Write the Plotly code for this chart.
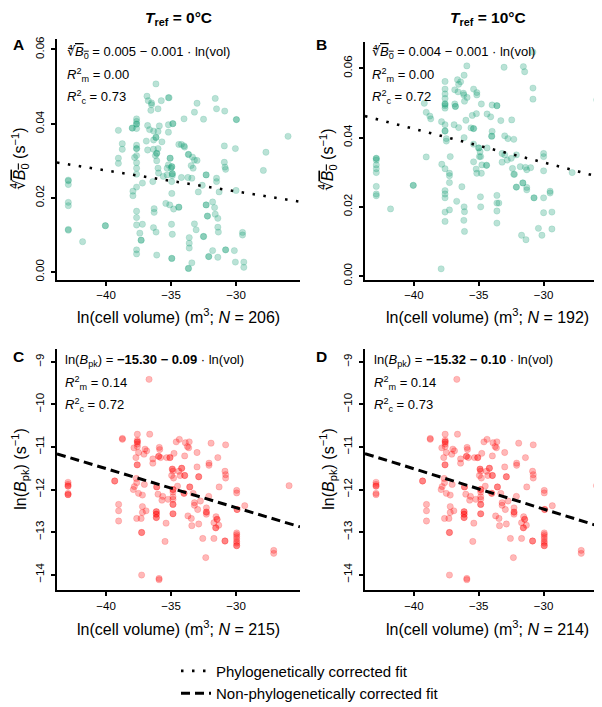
import plotly.graph_objects as go

# ---------------- data ----------------
# Panel A: T_ref = 0 C, fourth root of B0 vs ln(cell volume)
vol_A = [-42.9, -42.9, -42.9, -42.9, -42.9, -42.9, -42.9,
         -41.8, -40.05, -40.05, -39.05, -39.05, -39.05, -38.75, -38.75, -37.98, -37.98, -37.93, -37.93, -37.8,
         -37.65, -37.65, -37.65, -37.65, -37.65, -37.65, -37.65, -37.65, -37.65, -37.65, -37.65, -37.65, -37.65,
         -37.65, -37.65, -37.65, -37.65, -37.65,
         -37.2, -37.4, -37.3, -37.3, -37.2,
         -36.16, -36.85, -36.75, -36.5, -36.5, -35.75, -35.2, -35.15, -36.0, -36.55,
         -33.0, -31.6, -31.5, -30.87, -33.2, -32.5, -34.0, -29.97, -29.97,
         -34.86, -34.86, -35.2, -36.8, -36.65, -36.34, -36.0, -35.9, -35.2,
         -36.16, -36.16, -36.34, -36.9, -35.7, -36.8, -36.35, -36.0, -36.1, -36.1, -36.2,
         -34.4, -34.2, -34.0, -33.96, -33.66, -33.66, -33.35, -33.2, -33.0,
         -35.07, -35.07, -34.94, -34.94, -35.0, -35.2, -36.1, -36.0, -35.96, -35.3, -35.3, -35.6,
         -33.45, -33.3, -34.2, -33.7, -33.4, -32.3, -32.3, -31.5, -31.5,
         -30.9, -30.85, -30.8, -30.9, -30.05, -27.7, -27.9, -26.0,
         -34.9, -34.9, -34.9, -34.95, -36.4,
         -32.9, -32.6, -31.3, -30.0, -34.94,
         -35.4, -35.1, -34.8, -34.4, -34.4, -32.3, -32.3, -31.8, -31.65, -36.3, -36.3,
         -32.2, -32.2, -31.6, -31.4, -34.96, -34.9, -36.35, -36.15, -33.2, -33.07, -31.4, -31.36,
         -29.5, -29.5, -33.6, -33.6, -33.6, -32.5, -32.5, -31.8, -31.4,
         -30.8, -30.8, -30.13, -30.05, -29.4, -29.4, -32.1, -32.1, -34.94, -34.94, -36.1, -33.4, -33.66, -33.66]
b0_A = [0.0248, 0.0246, 0.0236, 0.0188, 0.0179, 0.0115, 0.0113,
        0.0082, 0.0125, 0.0125, 0.0382, 0.0307, 0.0293, 0.0346, 0.0331, 0.0388, 0.0388, 0.0218, 0.0206, 0.0309,
        0.0413, 0.0406, 0.0399, 0.0399, 0.0387, 0.0342, 0.0333, 0.0333, 0.0314, 0.0295, 0.0280, 0.0264, 0.0229,
        0.0164, 0.0147, 0.0127, 0.0060, 0.0049,
        0.0240, 0.0105, 0.0086, 0.0086, 0.0129,
        0.0507, 0.0474, 0.0462, 0.0456, 0.0451, 0.0462, 0.0470, 0.0470, 0.0440, 0.0436,
        0.0455, 0.0468, 0.0440, 0.0434, 0.0431, 0.0412, 0.0413, 0.0411, 0.0411,
        0.0400, 0.0400, 0.0397, 0.0395, 0.0384, 0.0380, 0.0379, 0.0394, 0.0377,
        0.0363, 0.0363, 0.0356, 0.0353, 0.0351, 0.0329, 0.0331, 0.0333, 0.0320, 0.0320, 0.0314,
        0.0344, 0.0344, 0.0340, 0.0337, 0.0317, 0.0317, 0.0310, 0.0302, 0.0301,
        0.0307, 0.0307, 0.0284, 0.0284, 0.0280, 0.0289, 0.0300, 0.0280, 0.0267, 0.0280, 0.0262, 0.0258,
        0.0287, 0.0280, 0.0255, 0.0255, 0.0253, 0.0262, 0.0262, 0.0253, 0.0244,
        0.0296, 0.0283, 0.0277, 0.0340, 0.0333, 0.0323, 0.0274, 0.0366,
        0.0265, 0.0265, 0.0260, 0.0244, 0.0244,
        0.0216, 0.0234, 0.0216, 0.0220, 0.0212,
        0.0185, 0.0181, 0.0170, 0.0175, 0.0175, 0.0181, 0.0181, 0.0189, 0.0174, 0.0171, 0.0161,
        0.0151, 0.0151, 0.0156, 0.0145, 0.0129, 0.0102, 0.0120, 0.0108, 0.0130, 0.0114, 0.0121, 0.0108,
        0.0107, 0.0100, 0.0093, 0.0078, 0.0065, 0.0096, 0.0096, 0.0058, 0.0040,
        0.0060, 0.0060, 0.0058, 0.0027, 0.0027, 0.0013, 0.0042, 0.0042, 0.0037, 0.0037, 0.0046, 0.0025, 0.0010, 0.0010]

# Panel B: T_ref = 10 C
vol_B = [-30.82, -35.92, -33.05, -31.56, -31.46, -36.13, -37.6,
         -36.64, -36.4, -36.55, -36.85, -36.6, -36.18, -36.15, -35.9, -35.4, -35.15, -35.15,
         -37.6, -37.6, -37.6, -37.6, -37.6, -37.6, -37.6,
         -36.85, -36.8, -36.8, -39.2, -36.1, -34.8, -33.97, -33.6, -33.6,
         -30.82, -30.82, -25.9, -39.05, -38.77, -38.7, -37.87,
         -37.6, -37.6, -37.6, -37.5, -37.5, -36.9, -36.55,
         -35.99, -35.5, -35.18, -34.36, -34.08, -33.3, -32.46, -35.6, -35.4, -35.4, -36.13,
         -33.97, -34.0, -34.0, -33.0, -32.75, -32.3,
         -35.0, -35.0, -34.9, -34.95, -34.85, -34.36, -35.4,
         -33.2, -33.0, -32.8, -32.5, -32.1, -30.0, -30.0, -39.05, -37.2,
         -37.85, -37.6, -37.26, -37.26, -37.26,
         -35.4, -34.76, -34.4, -34.4, -35.2, -35.15, -34.8, -33.2,
         -32.4, -32.3, -32.25, -31.8, -31.4, -31.3, -31.0, -30.0, -27.8,
         -31.6, -31.6, -31.3, -31.3, -32.1, -32.1, -30.74, -30.74, -29.5, -29.5, -30.0,
         -42.9, -42.9, -42.9, -42.9, -42.9, -42.9, -42.9, -42.9, -42.9,
         -40.05, -40.05, -41.8, -37.6, -37.6, -37.6, -36.3, -36.7,
         -37.26, -37.6, -37.6, -36.13, -36.1, -36.15, -36.1, -34.87, -34.85,
         -33.6, -33.6, -33.45, -33.6, -33.6, -30.0, -29.36, -30.4, -30.13, -29.36, -31.7, -31.36, -37.9]
b0_B = [0.0647, 0.0607, 0.0603, 0.0605, 0.0590, 0.0580, 0.0562,
        0.0567, 0.0561, 0.0554, 0.0538, 0.0532, 0.0528, 0.0523, 0.0516, 0.0540, 0.0530, 0.0523,
        0.0540, 0.0526, 0.0513, 0.0497, 0.0497, 0.0492, 0.0485,
        0.0497, 0.0490, 0.0490, 0.0499, 0.0505, 0.0497, 0.0494, 0.0492, 0.0492,
        0.0543, 0.0511, 0.0509, 0.0473, 0.0462, 0.0454, 0.0446,
        0.0437, 0.0419, 0.0419, 0.0397, 0.0390, 0.0437, 0.0429,
        0.0450, 0.0464, 0.0469, 0.0468, 0.0460, 0.0449, 0.0451, 0.0428, 0.0426, 0.0426, 0.0400,
        0.0418, 0.0404, 0.0404, 0.0405, 0.0397, 0.0395,
        0.0370, 0.0370, 0.0359, 0.0345, 0.0345, 0.0370, 0.0381,
        0.0354, 0.0350, 0.0335, 0.0340, 0.0350, 0.0354, 0.0345, 0.0344, 0.0345,
        0.0323, 0.0310, 0.0297, 0.0290, 0.0270,
        0.0330, 0.0321, 0.0320, 0.0320, 0.0309, 0.0297, 0.0297, 0.0329,
        0.0311, 0.0294, 0.0294, 0.0316, 0.0314, 0.0307, 0.0313, 0.0304, 0.0299,
        0.0269, 0.0269, 0.0256, 0.0249, 0.0257, 0.0257, 0.0226, 0.0226, 0.0245, 0.0240, 0.0226,
        0.0340, 0.0340, 0.0335, 0.0321, 0.0310, 0.0299, 0.0259, 0.0237, 0.0232,
        0.0262, 0.0262, 0.0194, 0.0247, 0.0237, 0.0226, 0.0258, 0.0216,
        0.0191, 0.0185, 0.0158, 0.0200, 0.0186, 0.0161, 0.0129, 0.0229, 0.0200,
        0.0233, 0.0211, 0.0211, 0.0188, 0.0153, 0.0183, 0.0185, 0.0138, 0.0118, 0.0136, 0.0118, 0.0105, 0.0021]

# Panel C: T_ref = 0 C, ln(B_pk) vs ln(cell volume)
vol_C = [-36.69,
         -37.59, -37.59, -37.59, -37.59, -37.59, -37.59,
         -38.74, -38.74, -36.64,
         -37.85, -37.5, -37.7, -37.6, -37.6, -37.0, -36.87, -37.08, -36.4, -36.4,
         -35.9, -35.87, -35.95, -35.95, -35.8, -35.33, -35.08, -35.08, -34.77,
         -34.6, -34.36, -33.9, -33.6, -33.74, -33.64, -33.95, -33.0, -31.92, -30.8, -31.4,
         -32.08, -32.08, -33.0,
         -34.9, -34.9, -34.85, -34.95, -34.8, -34.18, -34.18, -34.4, -34.3, -33.95, -33.95, -32.87, -32.87,
         -30.85, -30.8, -30.8, -31.3, -29.95, -29.95, -29.92, -29.92, -29.33, -25.92,
         -39.33, -39.33, -37.67, -37.64, -37.82, -37.9, -37.5, -37.05, -36.1, -36.1, -36.0, -35.64, -35.23,
         -34.85, -34.85, -34.85, -34.85, -34.85, -34.85, -34.85, -34.85, -34.85,
         -35.7, -34.5, -34.0, -34.0, -33.56, -33.56, -33.3, -33.2, -33.2, -32.74, -32.95,
         -32.28, -32.28, -32.28, -32.28, -32.1, -31.54, -31.46, -31.46, -31.33, -31.7, -31.56, -31.56,
         -39.03, -39.03, -39.03, -37.2, -37.2, -37.2, -37.64, -37.3, -36.92,
         -36.13, -36.13, -36.13, -36.13, -36.13, -36.13, -35.38, -37.26, -37.26, -35.46,
         -33.7, -33.44, -33.4, -32.87, -32.56, -31.7, -32.33, -30.85, -30.85,
         -29.95, -29.95, -29.95, -29.95, -29.95, -29.95, -29.95, -29.95,
         -27.1, -27.1, -37.26, -35.92, -35.92,
         -42.92, -42.92, -42.92, -42.92, -42.92, -42.92, -42.92]
bpk_C = [-9.41,
         -10.70, -10.84, -10.88, -10.88, -10.93, -10.99,
         -10.80, -10.82, -10.70,
         -11.02, -11.13, -11.25, -11.42, -11.42, -11.05, -11.09, -11.17, -11.28, -11.38,
         -11.01, -11.06, -11.22, -11.22, -11.25, -11.25, -11.25, -11.25, -11.15,
         -10.88, -10.82, -10.90, -10.88, -10.99, -11.02, -11.21, -11.13, -10.91, -10.95, -11.25,
         -11.38, -11.43, -11.47,
         -11.52, -11.52, -11.57, -11.67, -11.73, -11.50, -11.50, -11.57, -11.67, -11.67, -11.67, -11.70, -11.70,
         -11.57, -11.65, -11.73, -11.94, -12.02, -12.08, -12.47, -12.47, -12.38, -11.91,
         -11.80, -11.80, -11.74, -11.84, -11.93, -12.00, -12.09, -11.88, -11.94, -11.94, -12.11, -12.16, -12.23,
         -12.00, -12.00, -12.06, -12.17, -12.23, -12.35, -12.35, -12.57, -12.57,
         -12.25, -11.92, -12.09, -12.09, -11.94, -11.94, -12.09, -12.31, -12.37, -12.27, -12.47,
         -12.43, -12.53, -12.53, -12.58, -12.16, -12.64, -12.70, -12.70, -12.84, -12.78, -12.90, -12.90,
         -12.35, -12.50, -12.74, -12.13, -12.40, -12.54, -12.68, -12.68, -12.50,
         -12.52, -12.52, -12.58, -12.58, -12.66, -12.66, -12.79, -13.01, -13.01, -13.22,
         -12.62, -12.68, -12.85, -12.81, -13.15, -13.15, -13.60, -13.21, -13.21,
         -13.02, -13.06, -13.11, -13.16, -13.22, -13.26, -13.32, -13.32,
         -13.43, -13.50, -14.01, -14.09, -14.12,
         -11.83, -11.88, -11.92, -11.92, -12.09, -12.12, -12.12]

# Panel D: T_ref = 10 C (one observation fewer)
vol_D = vol_C[:-1]
bpk_D = bpk_C[:-1]

# fitted lines (intercept, slope)
fit_A = [0.0048, -0.000565]
fit_B = [0.00365, -0.000972]
fit_C = [-15.18, -0.0918]
fit_D = [-15.30, -0.0947]

n_labels = [206, 192, 215, 214]
temps = ["0", "10"]
eq_coefs = [["0.005", "0.001"], ["0.004", "0.001"], ["−15.30", "0.09"], ["−15.32", "0.10"]]
r2m = ["0.00", "0.00", "0.14", "0.14"]
r2c = ["0.73", "0.72", "0.72", "0.73"]

# ---------------- figure ----------------
W, H = 602, 707
FONT = "Liberation Sans, Arial, Helvetica, sans-serif"
GREEN = "rgba(27,158,119,0.30)"
GREEN_EDGE = "rgba(27,158,119,0.30)"
RED = "rgba(255,0,0,0.28)"
RED_EDGE = "rgba(255,0,0,0.30)"

XR_LEFT = [-43.77, -25.08]
XR_RIGHT = [-43.77, -24.92]
YR_A = [-0.0021, 0.0629]
YR_B = [-0.0011, 0.0677]
YR_CD = [-14.37, -8.70]


def px(x):
    return x / W


def py(y):
    return 1 - y / H


fig = go.Figure()

panels = [
    dict(ax="", vol=vol_A, val=b0_A, fit=fit_A, xr=XR_LEFT, yr=YR_A, fill=GREEN, edge=GREEN_EDGE, dash="2.5px,8.5px"),
    dict(ax="2", vol=vol_B, val=b0_B, fit=fit_B, xr=XR_RIGHT, yr=YR_B, fill=GREEN, edge=GREEN_EDGE, dash="2.5px,8.5px"),
    dict(ax="3", vol=vol_C, val=bpk_C, fit=fit_C, xr=XR_LEFT, yr=YR_CD, fill=RED, edge=RED_EDGE, dash="9px,5px"),
    dict(ax="4", vol=vol_D, val=bpk_D, fit=fit_D, xr=XR_RIGHT, yr=YR_CD, fill=RED, edge=RED_EDGE, dash="9px,5px"),
]

for i, p in enumerate(panels):
    xa = "x" + p["ax"]
    ya = "y" + p["ax"]
    fig.add_trace(go.Scatter(
        x=p["vol"], y=p["val"], mode="markers", xaxis=xa, yaxis=ya, showlegend=False,
        marker=dict(size=6.3, color=p["fill"], line=dict(width=0.5, color=p["edge"])),
        hoverinfo="skip"))
    x0, x1 = p["xr"]
    a, b = p["fit"]
    name = "Phylogenetically corrected fit" if i < 2 else "Non-phylogenetically corrected fit"
    fig.add_trace(go.Scatter(
        x=[x0, x1], y=[a + b * x0, a + b * x1], mode="lines", xaxis=xa, yaxis=ya,
        line=dict(color="black", width=2.6 if i < 2 else 3, dash=p["dash"]),
        name=name, showlegend=(i in (0, 2)), hoverinfo="skip"))

# axis domains (pixel based)
dom_x_left = [px(49), px(292)]
dom_x_right = [px(357), px(601.5)]
dom_y_A = [py(273), py(29)]
dom_y_B = [py(273), py(32)]
dom_y_CD = [py(587), py(343)]

axis_common = dict(showline=True, linecolor="black", linewidth=1.5, ticks="outside", ticklen=4,
                   tickwidth=1.5, tickcolor="black", showgrid=False, zeroline=False,
                   tickfont=dict(family=FONT, size=11.5, color="black"))
yaxis_extra = dict(tickangle=-90, ticklabelstandoff=3)

xticks = [-40, -35, -30]
layout = dict(
    width=W, height=H, margin=dict(l=0, r=0, t=0, b=0),
    paper_bgcolor="white", plot_bgcolor="white",
    font=dict(family=FONT, color="black"),
    xaxis=dict(domain=dom_x_left, range=XR_LEFT, anchor="y", tickvals=xticks, **axis_common),
    yaxis=dict(domain=dom_y_A, range=YR_A, anchor="x", tickvals=[0, 0.02, 0.04, 0.06], tickformat=".2f",
               **yaxis_extra, **axis_common),
    xaxis2=dict(domain=dom_x_right, range=XR_RIGHT, anchor="y2", tickvals=xticks, **axis_common),
    yaxis2=dict(domain=dom_y_B, range=YR_B, anchor="x2", tickvals=[0, 0.02, 0.04, 0.06], tickformat=".2f",
                **yaxis_extra, **axis_common),
    xaxis3=dict(domain=dom_x_left, range=XR_LEFT, anchor="y3", tickvals=xticks, **axis_common),
    yaxis3=dict(domain=dom_y_CD, range=YR_CD, anchor="x3", tickvals=[-14, -13, -12, -11, -10, -9],
                **yaxis_extra, **axis_common),
    xaxis4=dict(domain=dom_x_right, range=XR_RIGHT, anchor="y4", tickvals=xticks, **axis_common),
    yaxis4=dict(domain=dom_y_CD, range=YR_CD, anchor="x4", tickvals=[-14, -13, -12, -11, -10, -9],
                **yaxis_extra, **axis_common),
    showlegend=True,
    legend=dict(x=px(168), y=py(652), xanchor="left", yanchor="top", bgcolor="rgba(0,0,0,0)",
                font=dict(family=FONT, size=15, color="black"), tracegroupgap=0, itemwidth=30),
)
fig.update_layout(**layout)

ann = []


def add(text, x, y, size, xanchor="center", yanchor="middle", angle=0):
    ann.append(dict(text=text, x=px(x), y=py(y), xref="paper", yref="paper", showarrow=False,
                    xanchor=xanchor, yanchor=yanchor, textangle=angle, borderpad=0,
                    font=dict(family=FONT, size=size, color="black")))


# column titles
add("<b><i>T</i><sub>ref</sub> = %s°C</b>" % temps[0], 170, 9, 15.5)
add("<b><i>T</i><sub>ref</sub> = %s°C</b>" % temps[1], 480, 9, 15.5)

# panel letters
add("<b>A</b>", 10, 35, 15.5)
add("<b>B</b>", 313, 35, 15.5)
add("<b>C</b>", 10, 350, 15.5)
add("<b>D</b>", 313, 350, 15.5)

root = "∜<span style='text-decoration:overline'><i>B</i><sub>0</sub></span>"
bpk = "ln(<i>B</i><sub>pk</sub>)"

# in-panel equations
text_pos = [(58, 43), (363, 43), (56, 355), (365, 355)]
for i, (tx, ty) in enumerate(text_pos):
    c0, c1 = eq_coefs[i]
    if i < 2:
        line1 = "%s = %s − %s · ln(vol)" % (root, c0, c1)
    else:
        line1 = "%s = <b>%s − %s</b> · ln(vol)" % (bpk, c0, c1)
    add(line1, tx, ty, 13, xanchor="left")
    add("<i>R</i><sup>2</sup><sub>m</sub> = %s" % r2m[i], tx, ty + 22.5, 13, xanchor="left")
    add("<i>R</i><sup>2</sup><sub>c</sub> = %s" % r2c[i], tx, ty + 44.5, 13, xanchor="left")

# axis titles
for i, (cx, cy) in enumerate([(170.5, 310), (479.5, 310), (170.5, 625), (479.5, 625)]):
    add("ln(cell volume) (m<sup>3</sup>; <i>N</i> = %d)" % n_labels[i], cx, cy, 16)
add(root + " (s<sup>−1</sup>)", 12, 151, 16, angle=-90)
add(root + " (s<sup>−1</sup>)", 320, 152, 16, angle=-90)
add(bpk + " (s<sup>−1</sup>)", 12, 465, 16, angle=-90)
add(bpk + " (s<sup>−1</sup>)", 320, 465, 16, angle=-90)

fig.update_layout(annotations=ann)
fig.write_html("out.html")
